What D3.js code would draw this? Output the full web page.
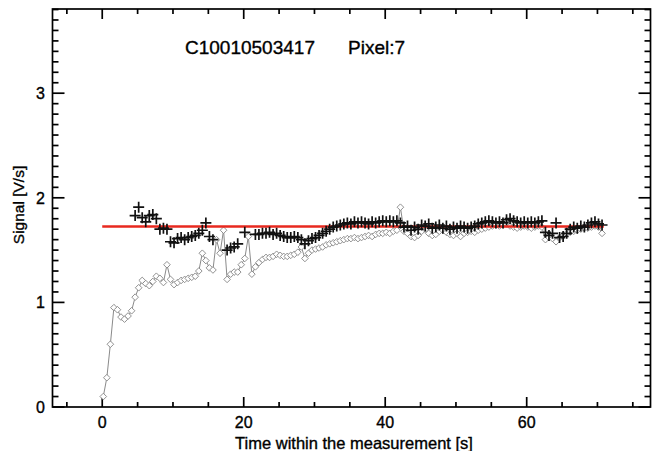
<!DOCTYPE html>
<html>
<head>
<meta charset="utf-8">
<script src="https://cdn.jsdelivr.net/npm/d3@7"></script>
<style>
  body { margin: 0; background: #fff; }
  svg text { font-family: "Liberation Sans", Arial, sans-serif; fill: #000; stroke: #000; stroke-width: 0.35; }
</style>
</head>
<body>
<div id="chart"></div>
<script>
const width = 652;
const height = 451;

// sample times [s]
const times = [
  0.15, 0.65, 1.15, 1.65, 2.15, 2.65, 3.15, 3.65, 4.15, 4.65,
  5.15, 5.65, 6.15, 6.65, 7.15, 7.65, 8.15, 8.65, 9.15, 9.65,
  10.15, 10.65, 11.15, 11.65, 12.15, 12.65, 13.15, 13.65, 14.15, 14.65,
  15.15, 15.65, 16.15, 16.65, 17.15, 17.65, 18.15, 18.65, 19.15, 19.65,
  20.15, 20.65, 21.15, 21.65, 22.15, 22.65, 23.15, 23.65, 24.15, 24.65,
  25.15, 25.65, 26.15, 26.65, 27.15, 27.65, 28.15, 28.65, 29.15, 29.65,
  30.15, 30.65, 31.15, 31.65, 32.15, 32.65, 33.15, 33.65, 34.15, 34.65,
  35.15, 35.65, 36.15, 36.65, 37.15, 37.65, 38.15, 38.65, 39.15, 39.65,
  40.15, 40.65, 41.15, 41.65, 42.15, 42.65, 43.15, 43.65, 44.15, 44.65,
  45.15, 45.65, 46.15, 46.65, 47.15, 47.65, 48.15, 48.65, 49.15, 49.65,
  50.15, 50.65, 51.15, 51.65, 52.15, 52.65, 53.15, 53.65, 54.15, 54.65,
  55.15, 55.65, 56.15, 56.65, 57.15, 57.65, 58.15, 58.65, 59.15, 59.65,
  60.15, 60.65, 61.15, 61.65, 62.15, 62.65, 63.15, 63.65, 64.15, 64.65,
  65.15, 65.65, 66.15, 66.65, 67.15, 67.65, 68.15, 68.65, 69.15, 69.65,
  70.15, 70.65
];

// raw signal (diamonds, grey line)
const rawSignal = [
  0.10, 0.28, 0.60, 0.95, 0.93, 0.86, 0.84, 0.87, 0.92, 1.05,
  1.14, 1.21, 1.18, 1.16, 1.20, 1.25, 1.23, 1.19, 1.36, 1.22,
  1.17, 1.19, 1.21, 1.22, 1.23, 1.24, 1.25, 1.30, 1.47, 1.40,
  1.33, 1.31, 1.60, 1.47, 1.69, 1.22, 1.27, 1.29, 1.29, 1.36,
  1.42, 1.63, 1.27, 1.34, 1.38, 1.41, 1.43, 1.43, 1.44, 1.46,
  1.45, 1.44, 1.44, 1.45, 1.46, 1.48, 1.53, 1.42, 1.47, 1.50,
  1.51, 1.52, 1.53, 1.55, 1.56, 1.57, 1.58, 1.59, 1.60, 1.61,
  1.61, 1.62, 1.61, 1.62, 1.63, 1.64, 1.63, 1.65, 1.66, 1.66,
  1.67, 1.66, 1.68, 1.69, 1.91, 1.68, 1.66, 1.63, 1.62, 1.64,
  1.68, 1.70, 1.66, 1.64, 1.65, 1.68, 1.69, 1.67, 1.65, 1.64,
  1.66, 1.63, 1.66, 1.67, 1.68, 1.67, 1.69, 1.70, 1.71, 1.72,
  1.73, 1.74, 1.73, 1.74, 1.75, 1.73, 1.72, 1.71, 1.72, 1.73,
  1.72, 1.71, 1.72, 1.73, 1.72, 1.60, 1.62, 1.61, 1.58, 1.62,
  1.64, 1.66, 1.67, 1.68, 1.69, 1.70, 1.71, 1.71, 1.72, 1.73,
  1.72, 1.66
];

// corrected signal (plus signs), null = no point
const corrSignal = [
  null, null, null, null, null, null, null, null, null, 1.83,
  1.91, 1.81, 1.77, 1.83, 1.84, 1.80, 1.70, 1.71, 1.70, 1.58,
  1.57, 1.61, 1.62, 1.60, 1.62, 1.63, 1.64, 1.66, 1.69, 1.76,
  1.63, 1.60, null, null, null, 1.50, 1.52, 1.53, 1.56, null,
  1.67, null, null, 1.65, 1.65, 1.66, 1.66, 1.67, 1.65, 1.66,
  1.64, 1.63, 1.62, 1.62, 1.63, 1.62, 1.60, 1.56, 1.59, 1.61,
  1.62, 1.64, 1.66, 1.68, 1.70, 1.72, 1.73, 1.74, 1.75, 1.76,
  1.75, 1.77, 1.76, 1.77, 1.76, 1.75, 1.77, 1.76, 1.77, 1.78,
  1.77, 1.78, 1.77, 1.78, 1.76, 1.72, 1.73, 1.69, 1.72, 1.70,
  1.74, 1.73, 1.75, 1.71, 1.72, 1.74, 1.71, 1.73, 1.70, 1.72,
  1.71, 1.73, 1.72, 1.71, 1.72, 1.73, 1.75, 1.76, 1.77, 1.78,
  1.77, 1.76, 1.77, 1.76, 1.79, 1.80, 1.78, 1.77, 1.76, 1.77,
  1.76, 1.77, 1.76, 1.77, 1.78, 1.67, 1.64, 1.66, 1.76, 1.62,
  1.63, 1.66, 1.70, 1.72, 1.71, 1.73, 1.72, 1.74, 1.76, 1.77,
  1.75, 1.74
];

// fitted level (red line)
const fitLevel = 1.725;
const fitRange = [0, 70.9];

const xTicks = [0, 20, 40, 60];
const yTicks = [0, 1, 2, 3];
const titleId = "C10010503417";
const titlePixel = "Pixel:7";

const margin = { left: 52.5, right: 1.5, top: 9, bottom: 44 };

const x = d3.scaleLinear()
  .domain([-7.03, 77.5])
  .range([margin.left, width - margin.right]);

const y = d3.scaleLinear()
  .domain([0, 3.805])
  .range([height - margin.bottom, margin.top]);

let svg = d3.select("#chart")
  .append("svg")
  .attr("width", width)
  .attr("height", height);

const x0 = x.range()[0], x1 = x.range()[1];
const y0 = y.range()[0], y1 = y.range()[1];

// ticks on all four sides, IDL style (pointing inwards)
const g = svg.append("g").attr("class", "frame");
const xMinor = d3.range(-5, 76, 5);
const yMinor = d3.range(0, 3.81, 0.1);

xMinor.forEach(v => {
  const major = xTicks.includes(v);
  const len = major ? 10 : 5;
  g.append("line").attr("x1", x(v)).attr("x2", x(v))
    .attr("y1", y0).attr("y2", y0 - len);
  g.append("line").attr("x1", x(v)).attr("x2", x(v))
    .attr("y1", y1).attr("y2", y1 + len);
});
yMinor.forEach(v => {
  const major = Math.abs(v - Math.round(v)) < 1e-6;
  const len = major ? 12 : 6;
  g.append("line").attr("x1", x0).attr("x2", x0 + len)
    .attr("y1", y(v)).attr("y2", y(v));
  g.append("line").attr("x1", x1).attr("x2", x1 - len)
    .attr("y1", y(v)).attr("y2", y(v));
});
g.append("rect")
  .attr("x", x0).attr("y", y1)
  .attr("width", x1 - x0).attr("height", y0 - y1)
  .attr("fill", "none");
g.selectAll("line, rect").attr("stroke", "#000").attr("stroke-width", 1.7);

// tick labels
svg.selectAll(".xlab")
  .data(xTicks)
  .enter()
  .append("text")
  .attr("class", "xlab")
  .attr("x", d => x(d))
  .attr("y", 428)
  .attr("text-anchor", "middle")
  .attr("font-size", 16)
  .text(d => d);

svg.selectAll(".ylab")
  .data(yTicks)
  .enter()
  .append("text")
  .attr("class", "ylab")
  .attr("x", 45)
  .attr("y", d => y(d) + 6)
  .attr("text-anchor", "end")
  .attr("font-size", 16)
  .text(d => d);

// axis titles
svg.append("text")
  .attr("x", 354)
  .attr("y", 449)
  .attr("text-anchor", "middle")
  .attr("font-size", 16.5)
  .text("Time within the measurement [s]");

svg.append("text")
  .attr("transform", "translate(24,205) rotate(-90)")
  .attr("text-anchor", "middle")
  .attr("font-size", 15.5)
  .text("Signal [V/s]");

svg.append("text")
  .attr("x", 185).attr("y", 54)
  .attr("font-size", 19)
  .text(titleId);
svg.append("text")
  .attr("x", 348).attr("y", 54)
  .attr("font-size", 19)
  .text(titlePixel);

// raw series: grey line + open diamonds
const rawData = times.map((t, i) => ({ t: t, v: rawSignal[i] }));
const line = d3.line().x(d => x(d.t)).y(d => y(d.v));

svg.append("path")
  .datum(rawData)
  .attr("d", line)
  .attr("fill", "none")
  .attr("stroke", "#8a8a8a")
  .attr("stroke-width", 1);

svg.selectAll(".diamond")
  .data(rawData)
  .enter()
  .append("path")
  .attr("class", "diamond")
  .attr("d", d3.symbol().type(d3.symbolDiamond2).size(28))
  .attr("transform", d => "translate(" + x(d.t) + "," + y(d.v) + ")")
  .attr("fill", "#fff")
  .attr("stroke", "#858585")
  .attr("stroke-width", 0.9);

// fitted level
svg.append("line")
  .attr("x1", x(fitRange[0])).attr("x2", x(fitRange[1]))
  .attr("y1", y(fitLevel)).attr("y2", y(fitLevel))
  .attr("stroke", "#e8291f")
  .attr("stroke-width", 2.5);

// corrected series: plus signs
const corrData = times
  .map((t, i) => ({ t: t, v: corrSignal[i] }))
  .filter(d => d.v !== null);

svg.selectAll(".plus")
  .data(corrData)
  .enter()
  .append("path")
  .attr("class", "plus")
  .attr("d", d => {
    const cx = x(d.t), cy = y(d.v), r = 5.5;
    return "M" + (cx - r) + "," + cy + "H" + (cx + r) +
      "M" + cx + "," + (cy - r) + "V" + (cy + r);
  })
  .attr("stroke", "#111")
  .attr("stroke-width", 1.7)
  .attr("fill", "none");
</script>
</body>
</html>
